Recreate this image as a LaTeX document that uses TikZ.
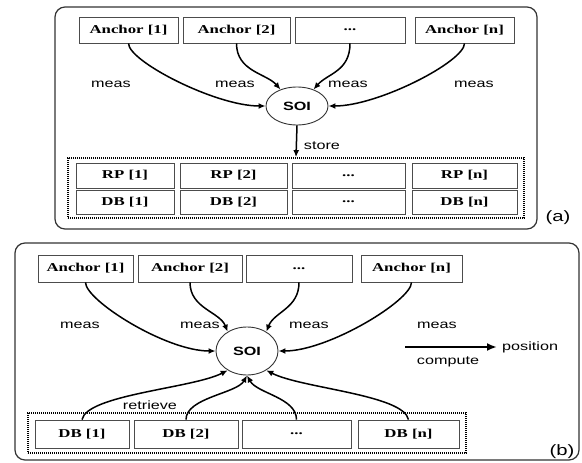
\documentclass[tikz,border=0pt]{standalone}
\usepackage{fontspec}
\usepackage{graphicx}
\newfontfamily\anchfont{Liberation Serif}
\newfontfamily\labfont{Liberation Sans}
\newcommand\wa[1]{\scalebox{1.4}[1]{#1}}
\newcommand\wl[1]{\scalebox{1.35}[1]{#1}}
\usetikzlibrary{shapes.geometric,arrows.meta}
\tikzset{
  panel/.style={draw=black!80, line width=1.2pt, rounded corners=10pt},
  box/.style={draw=black!70, line width=0.8pt, inner sep=0pt, font=\anchfont\bfseries\fontsize{12}{12}\selectfont},
  dotbox/.style={draw=black, line width=1.8pt, dash pattern=on 1.1pt off 0.9pt, inner sep=0pt},
  soi/.style={ellipse, draw=black!80, line width=0.9pt, inner sep=0pt, font=\labfont\bfseries\fontsize{12}{12}\selectfont},
  conn/.style={line width=1.5pt, -{Latex[length=7pt,width=6pt]}},
  lab/.style={inner sep=0pt, font=\labfont\fontsize{12}{12}\selectfont},
  plab/.style={inner sep=0pt, font=\labfont\fontsize{15}{15}\selectfont}
}
\begin{document}
\begin{tikzpicture}[x=1pt,y=1pt]
\useasboundingbox (0,0) rectangle (582,-463);
% ---------------- panel (a)
\draw[panel] (55,-7) rectangle (537,-229);
\node[box, minimum width=99, minimum height=26] (a1) at (128.5,-30) {\wa{Anchor [1]}};
\node[box, minimum width=107, minimum height=26] (a2) at (236.5,-30) {\wa{Anchor [2]}};
\node[box, minimum width=110, minimum height=26] (a3) at (350,-30) {\wa{...}};
\node[box, minimum width=99, minimum height=26] (an) at (464.5,-30) {\wa{Anchor [n]}};
\node[soi, minimum width=62, minimum height=38] (sa) at (297,-106) {\wl{SOI}};
\node[dotbox, minimum width=456, minimum height=60] (da) at (296,-188) {};
\node[box, minimum width=98, minimum height=25] (r1) at (125,-175.5) {\wa{RP [1]}};
\node[box, minimum width=107, minimum height=25] (r2) at (233.5,-175.5) {\wa{RP [2]}};
\node[box, minimum width=113, minimum height=25] (r3) at (348.5,-175.5) {\wa{...}};
\node[box, minimum width=105, minimum height=25] (rn) at (464.5,-175.5) {\wa{RP [n]}};
\node[box, minimum width=98, minimum height=24] (b1) at (125,-202) {\wa{DB [1]}};
\node[box, minimum width=107, minimum height=24] (b2) at (233.5,-202) {\wa{DB [2]}};
\node[box, minimum width=113, minimum height=24] (b3) at (348.5,-202) {\wa{...}};
\node[box, minimum width=105, minimum height=24] (bn) at (464.5,-202) {\wa{DB [n]}};
\draw[conn] (a1.south) .. controls +(0,-18) and +(-50,0) .. (sa.west);
\draw[conn] (a2.south) .. controls +(0,-28) and +(-14,16) .. (sa.135);
\draw[conn] (a3.south) .. controls +(0,-28) and +(14,16) .. (sa.45);
\draw[conn] (an.south) .. controls +(0,-18) and +(50,0) .. (sa.east);
\draw[conn] (sa.south) -- (da.north);
\node[lab] (ma1) at (111,-84) {\wl{meas}};
\node[lab] (ma2) at (235,-84) {\wl{meas}};
\node[lab] (ma3) at (348,-84) {\wl{meas}};
\node[lab] (ma4) at (474,-84) {\wl{meas}};
\node[lab] (st) at (322,-146) {\wl{store}};
\node[plab] (pa) at (558,-218) {\wl{(a)}};
% ---------------- panel (b)
\draw[panel] (15,-243) rectangle (579,-460);
\node[box, minimum width=95, minimum height=27] (c1) at (85.5,-268.5) {\wa{Anchor [1]}};
\node[box, minimum width=104, minimum height=27] (c2) at (190,-268.5) {\wa{Anchor [2]}};
\node[box, minimum width=106, minimum height=27] (c3) at (299,-268.5) {\wa{...}};
\node[box, minimum width=101, minimum height=27] (cn) at (411.5,-268.5) {\wa{Anchor [n]}};
\node[soi, minimum width=62, minimum height=48] (sb) at (247,-351) {\wl{SOI}};
\node[dotbox, minimum width=438, minimum height=40] (db) at (247,-433) {};
\node[box, minimum width=94, minimum height=28] (d1) at (82,-434) {\wa{DB [1]}};
\node[box, minimum width=104, minimum height=28] (d2) at (186,-434) {\wa{DB [2]}};
\node[box, minimum width=109, minimum height=28] (d3) at (296.5,-434) {\wa{...}};
\node[box, minimum width=101, minimum height=28] (dn) at (408.5,-434) {\wa{DB [n]}};
\draw[conn] (c1.south) .. controls +(0,-18) and +(-50,0) .. (sb.west);
\draw[conn] (c2.south) .. controls +(0,-26) and +(-8,20) .. (sb.135);
\draw[conn] (c3.south) .. controls +(0,-26) and +(8,20) .. (sb.45);
\draw[conn] (cn.south) .. controls +(0,-18) and +(50,0) .. (sb.east);
\draw[conn] (d1.north) .. controls +(5,25) and +(-35,-18) .. (sb.-135);
\draw[conn] (d2.north) .. controls +(0,22) and +(-10,-18) .. (sb.south);
\draw[conn] (d3.north) .. controls +(0,22) and +(10,-18) .. (sb.south);
\draw[conn] (dn.north) .. controls +(-5,25) and +(35,-18) .. (sb.-45);
\node[lab] (mb1) at (80,-325) {\wl{meas}};
\node[lab] (mb2) at (200,-325) {\wl{meas}};
\node[lab] (mb3) at (309,-325) {\wl{meas}};
\node[lab] (mb4) at (437,-325) {\wl{meas}};
\node[lab] (rt) at (150,-405) {\wl{retrieve}};
\coordinate (cs) at (405,-347);
\node[lab, anchor=west] (pos) at (502,-347) {\wl{position}};
\draw[line width=2.3pt, -{Latex[length=10pt,width=8pt]}, shorten >=5pt] (cs) -- (pos.west);
\node[lab] (cp) at (448,-362) {\wl{compute}};
\node[plab] (pb) at (562,-452) {\wl{(b)}};
\end{tikzpicture}
\end{document}
